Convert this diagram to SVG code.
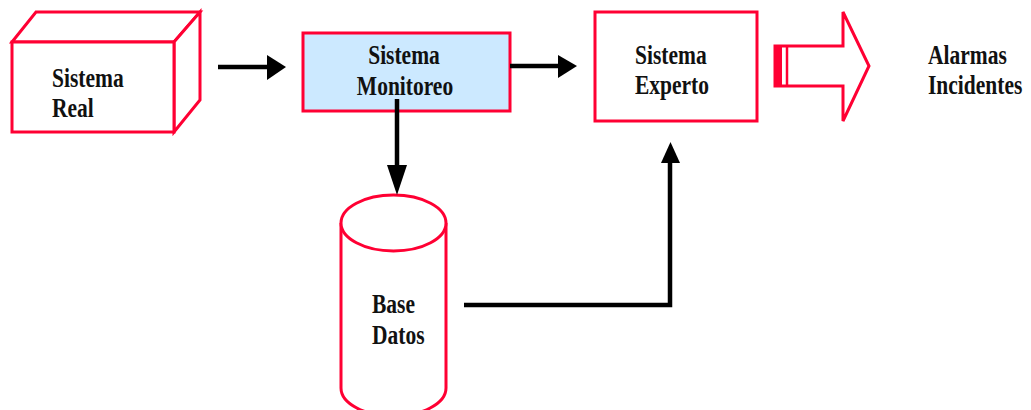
<svg xmlns="http://www.w3.org/2000/svg" width="1031" height="410" viewBox="0 0 1031 410">
<style>
.n{fill:#ffffff;stroke:#ff0033;stroke-width:3;stroke-linejoin:miter}
.t{font-family:"Liberation Serif","Times New Roman",serif;font-weight:bold;font-size:21.5px;fill:#111111}
.c{stroke:#000000;stroke-width:4.5;fill:none}
.h{fill:#000000}
</style>
<rect width="1031" height="410" fill="#ffffff"/>
<g id="sistema-real">
<polygon class="n" points="12,42 36,12 200,12 174,42"/>
<polygon class="n" points="174,42 200,12 200,100 174,132"/>
<rect class="n" x="12" y="42" width="162" height="90"/>
<text class="t" transform="translate(52,87) scale(1,1.25)">Sistema</text>
<text class="t" transform="translate(52,117) scale(1,1.25)">Real</text>
</g>
<g id="sistema-monitoreo">
<rect class="n" x="303" y="33" width="207" height="78" style="fill:#cce9ff"/>
<text class="t" text-anchor="middle" transform="translate(404,64) scale(1,1.25)">Sistema</text>
<text class="t" text-anchor="middle" transform="translate(405,95) scale(1,1.25)">Monitoreo</text>
</g>
<g id="sistema-experto">
<rect class="n" x="595" y="12" width="162" height="109"/>
<text class="t" transform="translate(635,64) scale(1,1.25)">Sistema</text>
<text class="t" transform="translate(635,94) scale(1,1.25)">Experto</text>
</g>
<g id="base-datos">
<path class="n" d="M341,223 V388 A52.5,28 0 0 0 446,388 V223"/>
<ellipse class="n" cx="393.5" cy="223" rx="52.5" ry="28"/>
<text class="t" transform="translate(372,313) scale(1,1.25)">Base</text>
<text class="t" transform="translate(372,344) scale(1,1.25)">Datos</text>
</g>
<g id="salida">
<polygon class="n" points="775,46 843,46 843,12 869,66 843,121 843,86 775,86"/>
<rect x="775" y="46" width="7" height="40" fill="#ff0033"/>
<line x1="787" y1="46" x2="787" y2="86" stroke="#ff0033" stroke-width="2.5"/>
</g>
<g id="alarmas">
<text class="t" transform="translate(928,64) scale(1,1.25)">Alarmas</text>
<text class="t" transform="translate(928,94) scale(1,1.25)">Incidentes</text>
</g>
<g id="connectors">
<line class="c" x1="218" y1="67" x2="270" y2="67"/>
<polygon class="h" points="267,55 286,67 267,80"/>
<line class="c" x1="510" y1="66" x2="561" y2="66"/>
<polygon class="h" points="558,55 577,66 558,78"/>
<line class="c" x1="397" y1="99" x2="397" y2="168"/>
<polygon class="h" points="387,165 407,165 397,195"/>
<polyline class="c" points="464,305 670,305 670,160" stroke-linejoin="miter"/>
<polygon class="h" points="661,163 680,163 670.5,142"/>
</g>
</svg>
